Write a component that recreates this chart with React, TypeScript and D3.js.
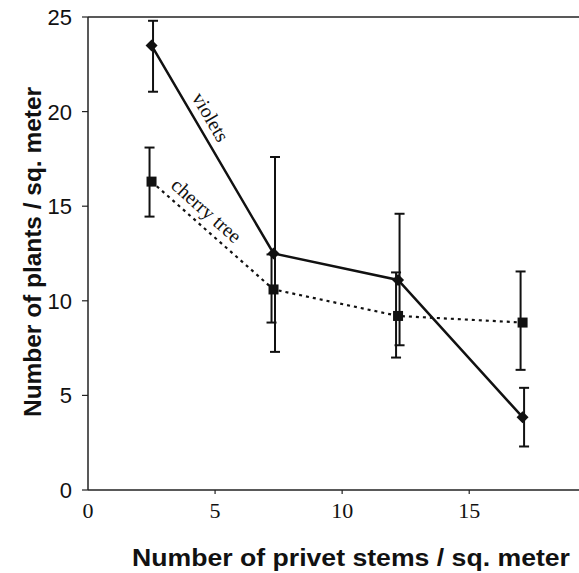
import React from "react";
import * as d3 from "d3";

const W = 579;
const H = 573;
const margin = { top: 17, right: 0, bottom: 83, left: 88 };

// privet stems / sq. meter (x)
const stems = [2.5, 7.3, 12.2, 17.1];

// violets
const violetMean = [23.5, 12.5, 11.1, 3.85];
const violetHigh = [24.8, 17.6, 14.6, 5.4];
const violetLow = [21.05, 7.3, 7.65, 2.3];

// cherry tree
const cherryMean = [16.3, 10.6, 9.2, 8.85];
const cherryHigh = [18.1, 12.45, 11.5, 11.55];
const cherryLow = [14.45, 8.85, 7.0, 6.35];

const xTicks = [0, 5, 10, 15];
const yTicks = [0, 5, 10, 15, 20, 25];

const sans = "'Liberation Sans', Arial, sans-serif";
const serif = "'Liberation Serif', 'Times New Roman', serif";

export default function App() {
  const boundsW = W - margin.left - margin.right;
  const boundsH = H - margin.top - margin.bottom;

  const x = d3.scaleLinear().domain([0, 19.32]).range([0, boundsW]);
  const y = d3.scaleLinear().domain([0, 25]).range([boundsH, 0]);

  const line = d3
    .line<number>()
    .x((_, i) => x(stems[i]))
    .y((d) => y(d));

  const errBars = (hi: number[], lo: number[], dx: number, key: string) =>
    stems.map((s, i) => {
      const cx = x(s) + dx;
      return (
        <g key={key + i} stroke="#111" strokeWidth={2}>
          <line x1={cx} x2={cx} y1={y(hi[i])} y2={y(lo[i])} />
          <line x1={cx - 5} x2={cx + 5} y1={y(hi[i])} y2={y(hi[i])} />
          <line x1={cx - 5} x2={cx + 5} y1={y(lo[i])} y2={y(lo[i])} />
        </g>
      );
    });

  // label placed along first segment of a series
  const segLabel = (vals: number[], t: number, off: number, text: string) => {
    const x0 = x(stems[0]), y0 = y(vals[0]);
    const x1 = x(stems[1]), y1 = y(vals[1]);
    const ang = (Math.atan2(y1 - y0, x1 - x0) * 180) / Math.PI;
    const px = x0 + (x1 - x0) * t;
    const py = y0 + (y1 - y0) * t;
    return (
      <text
        transform={`translate(${px},${py}) rotate(${ang})`}
        y={-off}
        textAnchor="middle"
        fontFamily={serif}
        fontSize={20}
        fill="#111"
      >
        {text}
      </text>
    );
  };

  return (
    <svg
      width={W}
      height={H}
      style={{ position: "absolute", left: 0, top: 0, background: "#fff" }}
    >
      <g transform={`translate(${margin.left},${margin.top})`}>
        {/* frame */}
        <line x1={0} x2={boundsW} y1={0} y2={0} stroke="#222" strokeWidth={1.5} />
        <line x1={0} x2={0} y1={0} y2={boundsH} stroke="#222" strokeWidth={1.5} />
        <line x1={0} x2={boundsW} y1={boundsH} y2={boundsH} stroke="#222" strokeWidth={1.5} />

        {/* y ticks */}
        {yTicks.map((t) => (
          <g key={"y" + t}>
            <line x1={-6} x2={0} y1={y(t)} y2={y(t)} stroke="#222" strokeWidth={1.2} />
            <text
              x={-16}
              y={y(t)}
              dy="0.36em"
              textAnchor="end"
              fontFamily={sans}
              fontSize={22}
              fill="#111"
            >
              {t}
            </text>
          </g>
        ))}

        {/* x ticks */}
        {xTicks.map((t) => (
          <g key={"x" + t}>
            {t > 0 && (
              <line x1={x(t)} x2={x(t)} y1={boundsH} y2={boundsH + 4} stroke="#222" strokeWidth={1.2} />
            )}
            <text
              x={x(t)}
              y={boundsH + 28}
              textAnchor="middle"
              fontFamily={serif}
              fontSize={22}
              fill="#111"
            >
              {t}
            </text>
          </g>
        ))}

        {/* cherry tree */}
        <path
          d={line(cherryMean) ?? ""}
          fill="none"
          stroke="#111"
          strokeWidth={2.2}
          strokeDasharray="3,4"
        />
        {errBars(cherryHigh, cherryLow, -2, "c")}
        {cherryMean.map((v, i) => (
          <rect
            key={"cm" + i}
            x={x(stems[i]) - 5}
            y={y(v) - 5}
            width={10}
            height={10}
            fill="#111"
          />
        ))}

        {/* violets */}
        <path d={line(violetMean) ?? ""} fill="none" stroke="#111" strokeWidth={2.5} />
        {errBars(violetHigh, violetLow, 1.5, "v")}
        {violetMean.map((v, i) => (
          <path
            key={"vm" + i}
            d="M0,-6L6,0L0,6L-6,0Z"
            transform={`translate(${x(stems[i])},${y(v)})`}
            fill="#111"
          />
        ))}

        {segLabel(violetMean, 0.38, 8, "violets")}
        {segLabel(cherryMean, 0.37, 8, "cherry tree")}
      </g>

      {/* axis titles */}
      <text
        x={351}
        y={566}
        textAnchor="middle"
        fontFamily={sans}
        fontWeight="bold"
        fontSize={23}
        textLength={438}
        lengthAdjust="spacingAndGlyphs"
        fill="#111"
      >
        Number of privet stems / sq. meter
      </text>
      <text
        transform="translate(41,252) rotate(-90)"
        textAnchor="middle"
        fontFamily={sans}
        fontWeight="bold"
        fontSize={24}
        textLength={330}
        lengthAdjust="spacingAndGlyphs"
        fill="#111"
      >
        Number of plants / sq. meter
      </text>
    </svg>
  );
}
